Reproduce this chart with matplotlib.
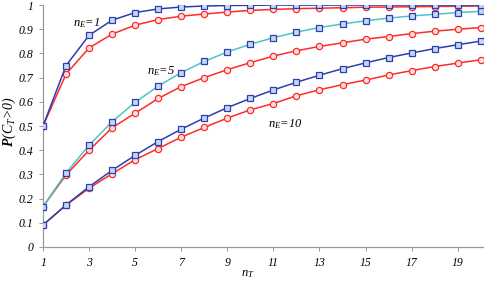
import matplotlib
matplotlib.use("Agg")
import matplotlib.pyplot as plt

n_t = list(range(1, 21))

# n_E = 1
ne1_sq = [0.5, 0.75, 0.875, 0.9375, 0.969, 0.984, 0.992, 0.996, 0.998, 0.999,
          1.0, 1.0, 1.0, 1.0, 1.0, 1.0, 1.0, 1.0, 1.0, 1.0]
ne1_ci = [0.5, 0.715, 0.823, 0.880, 0.917, 0.940, 0.954, 0.963, 0.971, 0.978,
          0.982, 0.985, 0.987, 0.989, 0.991, 0.992, 0.993, 0.994, 0.995, 0.996]

# n_E = 5
ne5_sq = [0.167, 0.306, 0.421, 0.518, 0.598, 0.665, 0.721, 0.767, 0.806, 0.838,
          0.865, 0.888, 0.907, 0.922, 0.935, 0.946, 0.955, 0.962, 0.969, 0.974]
ne5_ci = [0.167, 0.298, 0.400, 0.493, 0.553, 0.614, 0.663, 0.700, 0.733, 0.762,
          0.789, 0.811, 0.829, 0.844, 0.859, 0.870, 0.882, 0.892, 0.900, 0.907]

# n_E = 10
ne10_sq = [0.091, 0.174, 0.249, 0.317, 0.379, 0.436, 0.487, 0.533, 0.576, 0.614,
           0.649, 0.681, 0.710, 0.737, 0.761, 0.783, 0.802, 0.820, 0.836, 0.851]
ne10_ci = [0.091, 0.173, 0.243, 0.303, 0.361, 0.407, 0.454, 0.494, 0.533, 0.567,
           0.593, 0.625, 0.650, 0.671, 0.690, 0.711, 0.729, 0.746, 0.760, 0.774]

labels = ["$n_E$=1", "$n_E$=5", "$n_E$=10"]

plt.rcParams["font.family"] = "Liberation Serif"
plt.rcParams["mathtext.fontset"] = "custom"
plt.rcParams["mathtext.it"] = "Liberation Serif:italic"
plt.rcParams["mathtext.rm"] = "Liberation Serif:italic"
plt.rcParams["mathtext.bf"] = "Liberation Serif:italic:bold"

blue = "#2a40b0"
cyan = "#4cc4c8"
red = "#ff2a2a"
sq_fill = "#c8d6f4"
ci_fill = "#ffe0e0"

fig = plt.figure(figsize=(4.9, 2.81), dpi=100)
ax = fig.add_axes([0.0878, 0.121, 0.898, 0.861])


def squares(y, line_color):
    ax.plot(n_t, y, color=line_color, lw=1.1, marker="s", ms=4.5,
            mfc=sq_fill, mec=blue, mew=0.9, zorder=3)


def circles(y):
    ax.plot(n_t, y, color=red, lw=1.1, marker="o", ms=4.5,
            mfc=ci_fill, mec=red, mew=0.9, zorder=2)


circles(ne10_ci)
squares(ne10_sq, blue)
circles(ne5_ci)
squares(ne5_sq, cyan)
circles(ne1_ci)
squares(ne1_sq, blue)

ax.set_xlim(1, 20.1)
ax.set_ylim(0, 1)
ax.set_xticks(range(1, 20, 2))
ax.set_yticks([i / 10 for i in range(11)])
ax.set_yticklabels(["0", "0.1", "0.2", "0.3", "0.4", "0.5", "0.6", "0.7",
                    "0.8", "0.9", "1"])
for lab in ax.get_xticklabels() + ax.get_yticklabels():
    lab.set_fontstyle("italic")
    lab.set_fontsize(8.5)
ax.tick_params(axis="both", length=3, width=0.7, color="#999999", pad=4)

for side in ["top", "right"]:
    ax.spines[side].set_visible(False)
for side in ["left", "bottom"]:
    ax.spines[side].set_color("#999999")
    ax.spines[side].set_linewidth(0.9)

ax.set_xlabel("$n_T$", fontsize=9)
ax.xaxis.set_label_coords(0.466, -0.085)
fig.text(0.019, 0.566, r"$\mathbf{P}$$(C_T$>0)", fontsize=10, fontstyle="italic",
         rotation=90, ha="center", va="center")

ax.text(2.3, 0.913, labels[0], fontsize=9, fontstyle="italic")
ax.text(5.5, 0.715, labels[1], fontsize=9, fontstyle="italic")
ax.text(10.75, 0.495, labels[2], fontsize=9, fontstyle="italic")

fig.savefig("out.png", dpi=100)
